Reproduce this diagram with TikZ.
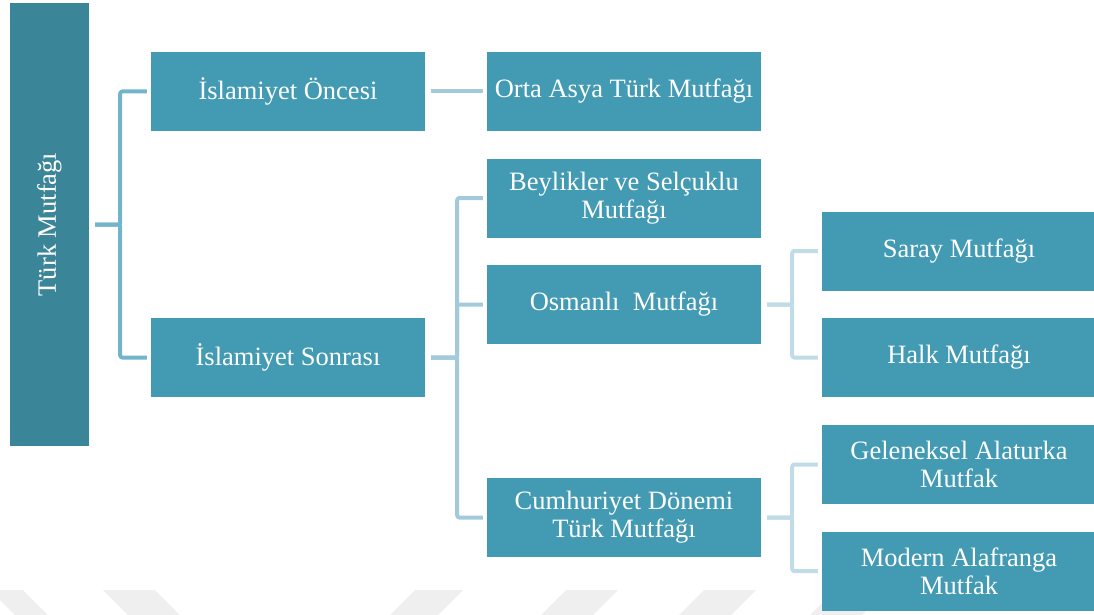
\documentclass[tikz,border=0pt]{standalone}
\usepackage{fontspec}
\setmainfont{Liberation Serif}
\definecolor{rootc}{HTML}{3B8599}
\definecolor{boxc}{HTML}{439AB3}
\definecolor{linka}{HTML}{72B5CB}
\definecolor{linkb}{HTML}{A3CADA}
\definecolor{linkc}{HTML}{C0DCE6}
\definecolor{markc}{HTML}{EFEFEF}
\begin{document}
\begin{tikzpicture}[x=1pt, y=-1pt, line join=round,
		box/.style={fill=boxc, text=white, minimum width=274, minimum height=79, align=center, inner sep=2pt, font=\fontsize{26.5}{28}\selectfont},
		link/.style={line width=4pt, rounded corners=2pt, shorten <=6pt, shorten >=4pt}]
	\useasboundingbox (0,0) rectangle (1094,615);
	% faint marks at the foot of the page
	\begin{scope}
		\clip (0,0) rectangle (1094,615);
		\foreach \a/\b in {-10/23,103/155} \fill[markc] (\a,590) -- (\b,590) -- (\b+30,620) -- (\a+30,620) -- cycle;
		\foreach \a/\b in {415/463,566/618,704/756,835/887} \fill[markc] (\a,590) -- (\b,590) -- (\b-30,620) -- (\a-30,620) -- cycle;
	\end{scope}
	\node[box, fill=rootc, rotate=90, minimum width=443] (root) at (49.5,224.5) {Türk Mutfağı};
	\node[box] (once) at (288,91.5) {İslamiyet Öncesi};
	\node[box] (sonra) at (288,357.5) {İslamiyet Sonrası};
	\node[box] (orta) at (624,91.5) {Orta Asya Türk Mutfağı};
	\node[box] (beylik) at (624,198) {Beylikler ve Selçuklu\\Mutfağı};
	\node[box] (osmanli) at (624,304.5) {Osmanlı~ Mutfağı};
	\node[box] (cumh) at (624,517.5) {Cumhuriyet Dönemi\\Türk Mutfağı};
	\node[box] (saray) at (959,251) {Saray Mutfağı};
	\node[box] (halk) at (959,357.5) {Halk Mutfağı};
	\node[box] (gelenek) at (959,464.5) {Geleneksel Alaturka\\Mutfak};
	\node[box] (modern) at (959,571) {Modern Alafranga\\Mutfak};
	\foreach \t in {once,sonra} \draw[link, linka] (root.south) -- ++(31,0) |- (\t.west);
	\draw[link, linkb] (once) -- (orta);
	\foreach \t in {beylik,osmanli,cumh} \draw[link, linkb] (sonra.east) -- ++(32,0) |- (\t.west);
	\foreach \t in {saray,halk} \draw[link, linkc] (osmanli.east) -- ++(31,0) |- (\t.west);
	\foreach \t in {gelenek,modern} \draw[link, linkc] (cumh.east) -- ++(31,0) |- (\t.west);
\end{tikzpicture}
\end{document}
